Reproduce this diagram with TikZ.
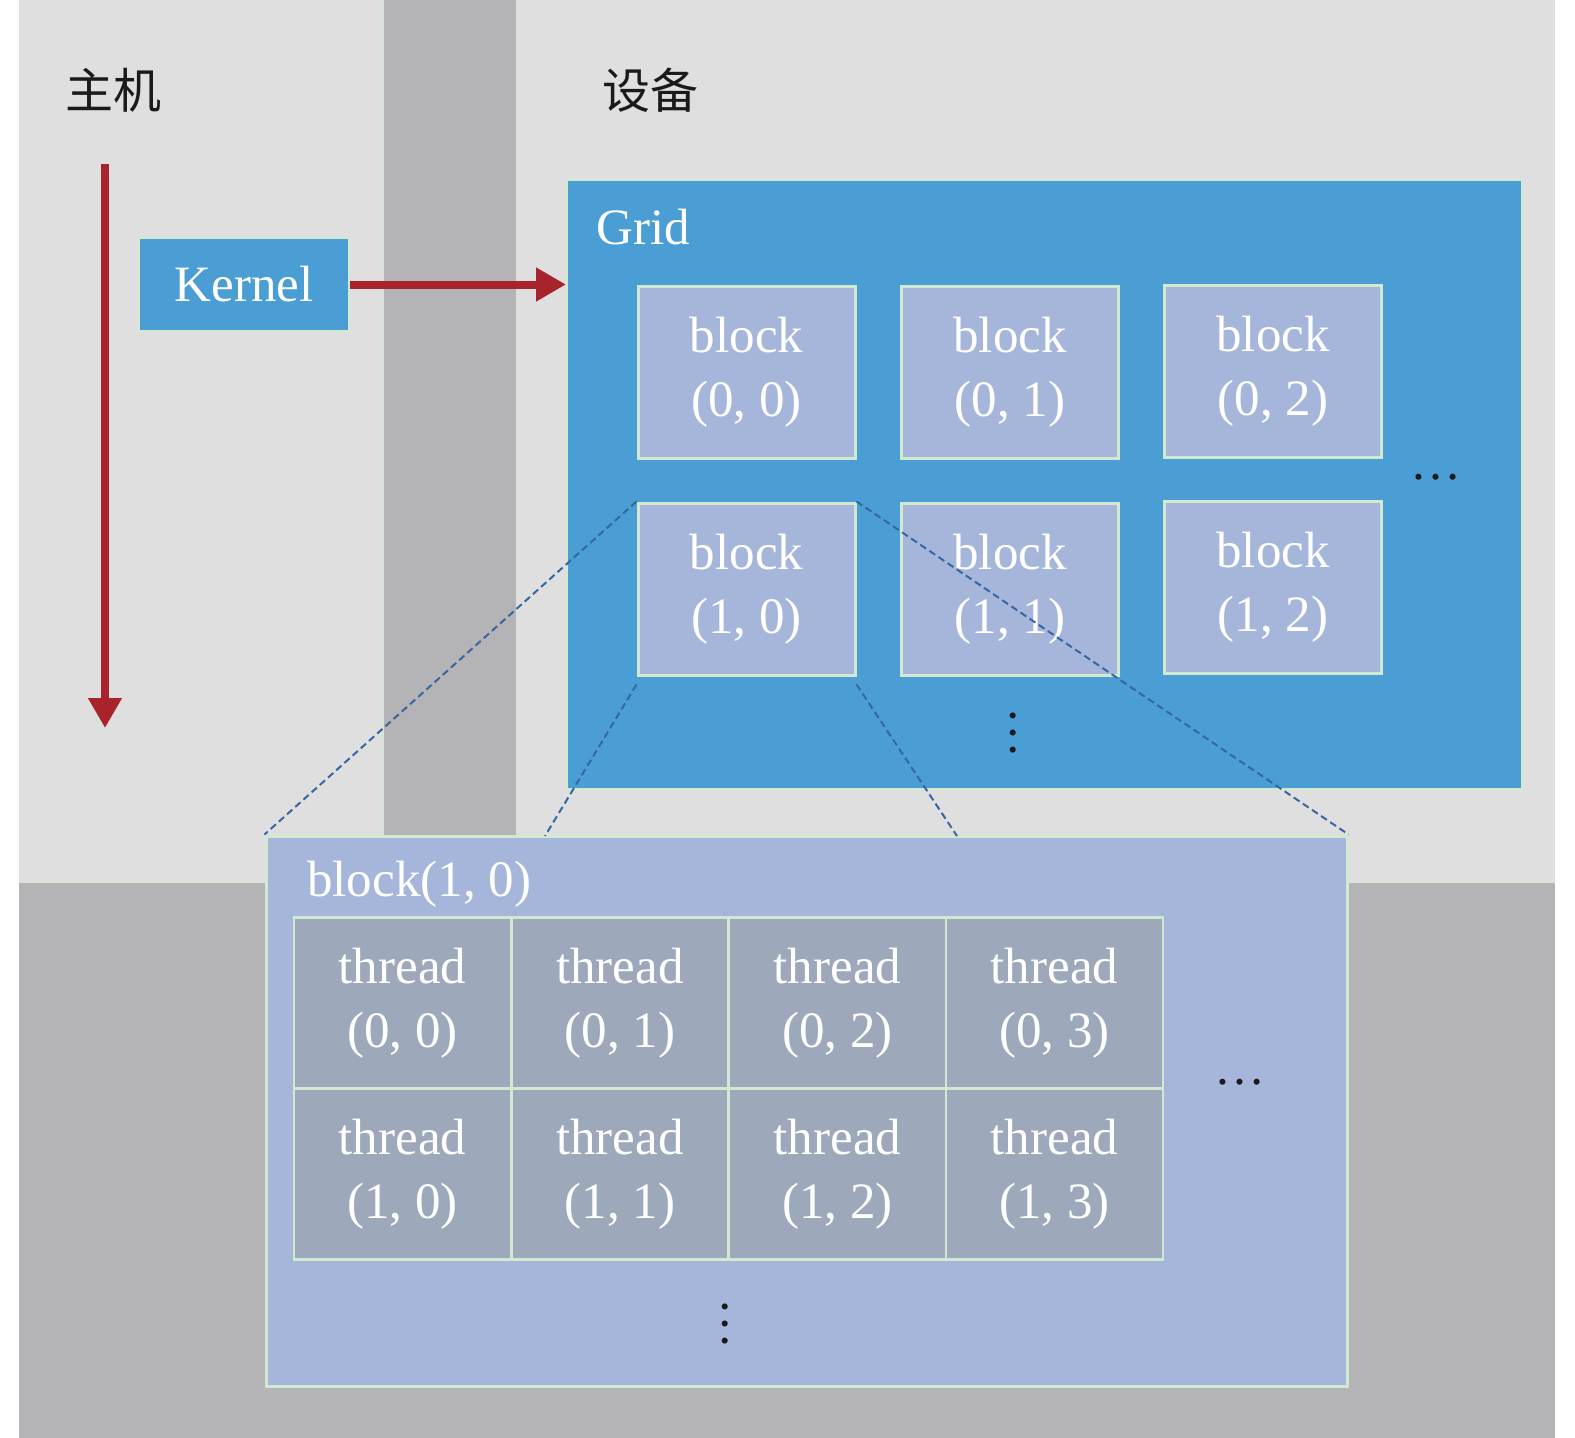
\documentclass[tikz,border=0pt]{standalone}
\usepackage{fontspec}
\setmainfont{Liberation Serif}
\newfontfamily\cjk{Noto Sans CJK SC}
\usetikzlibrary{arrows.meta}
\definecolor{lightbg}{HTML}{E0DFE0}
\definecolor{darkbg}{HTML}{B4B3B5}
\definecolor{gridblue}{HTML}{4A9ED3}
\definecolor{blockfill}{HTML}{A6B6DA}
\definecolor{threadfill}{HTML}{9DA9BB}
\definecolor{edgegreen}{HTML}{D0E9D0}
\definecolor{arrowred}{HTML}{A8232B}
\definecolor{dashblue}{HTML}{3568A3}
\definecolor{inkblack}{HTML}{1A1A1A}
\begin{document}
\begin{tikzpicture}[x=1pt,y=-1pt,
 box/.style={draw=edgegreen, line width=3pt, inner sep=0pt, text=white,
   font=\fontsize{51}{64}\selectfont, align=center},
 blk/.style={box, fill=blockfill, minimum width=217pt, minimum height=172pt},
 thr/.style={box, fill=threadfill, line width=2.5pt, minimum width=217pt, minimum height=171pt},
 redarrow/.style={draw=arrowred, line width=8pt, -{Triangle[length=30pt,width=32pt]}},
 zoomline/.style={draw=dashblue, line width=2pt, dash pattern=on 7pt off 4pt},
 dots/.style={font=\fontsize{51}{60}\selectfont, text=inkblack, inner sep=0pt},
 cjklabel/.style={font=\cjk\fontsize{48}{50}\selectfont, text=inkblack, inner sep=0pt}]
% background
\fill[white] (0,0) rectangle (1575,1438);
\useasboundingbox (0,0) rectangle (1575,1438);
\fill[lightbg] (19,0) rectangle (1555,882);
\fill[darkbg] (19,882) rectangle (1555,1438);
\fill[darkbg] (383,0) rectangle (516,882);
\draw[edgegreen, line width=1pt] (383,0) -- (383,882) (516,0) -- (516,882) (19,882) -- (1555,882);
% titles
\node[cjklabel] (host) at (113,90) {主机};
\node[cjklabel] (dev) at (650,90) {设备};
% kernel
\node[box, fill=gridblue, line width=2pt, minimum width=210pt, minimum height=93pt] (kernel) at (244,284.5) {Kernel};
% grid
\node[draw=edgegreen, line width=2pt, fill=gridblue, minimum width=955pt, minimum height=609pt, inner sep=0pt] (grid) at (1044.5,484.5) {};
\node[anchor=base west, text=white, font=\fontsize{51}{60}\selectfont, inner sep=0pt] (gridlbl) at (596,244) {Grid};
% blocks
\node[blk] (b00) at (746.5,372) {block\\(0, 0)};
\node[blk] (b01) at (1010,372) {block\\(0, 1)};
\node[blk] (b02) at (1273,371) {block\\(0, 2)};
\node[blk] (b10) at (746.5,589) {block\\(1, 0)};
\node[blk] (b11) at (1010,589) {block\\(1, 1)};
\node[blk] (b12) at (1273,587) {block\\(1, 2)};
\node[dots] (gdotsh) at (1436,477) {\ldots};
\node[dots, rotate=90] (gdotsv) at (1013,733) {\ldots};
% arrows
\coordinate (vs) at (105,164);
\coordinate (ve) at (105,728);
\draw[redarrow] (vs) -- (ve);
\draw[redarrow] (kernel.east) -- (grid.west |- kernel.east);
% enlarged block
\node[draw=edgegreen, line width=3pt, fill=blockfill, minimum width=1081pt, minimum height=550pt, inner sep=0pt] (big) at (806.5,1111) {};
\node[anchor=base west, text=white, font=\fontsize{51}{60}\selectfont, inner sep=0pt] (biglbl) at (307,896) {block(1, 0)};
\node[thr] (t00) at (402.5,1003) {thread\\(0, 0)};
\node[thr] (t01) at (620,1003) {thread\\(0, 1)};
\node[thr] (t02) at (837.5,1003) {thread\\(0, 2)};
\node[thr] (t03) at (1054.5,1003) {thread\\(0, 3)};
\node[thr] (t10) at (402.5,1174) {thread\\(1, 0)};
\node[thr] (t11) at (620,1174) {thread\\(1, 1)};
\node[thr] (t12) at (837.5,1174) {thread\\(1, 2)};
\node[thr] (t13) at (1054.5,1174) {thread\\(1, 3)};
\node[dots] (tdotsh) at (1240,1082) {\ldots};
\node[dots, rotate=90] (tdotsv) at (725,1324) {\ldots};
% zoom lines
\coordinate (z3) at (545,836);
\coordinate (z4) at (957,836);
\draw[zoomline] (b10.north west) -- (big.north west);
\draw[zoomline] (b10.north east) -- (big.north east);
\draw[zoomline] ([yshift=-8pt]b10.south west) -- (z3);
\draw[zoomline] ([yshift=-8pt]b10.south east) -- (z4);
\end{tikzpicture}
\end{document}
